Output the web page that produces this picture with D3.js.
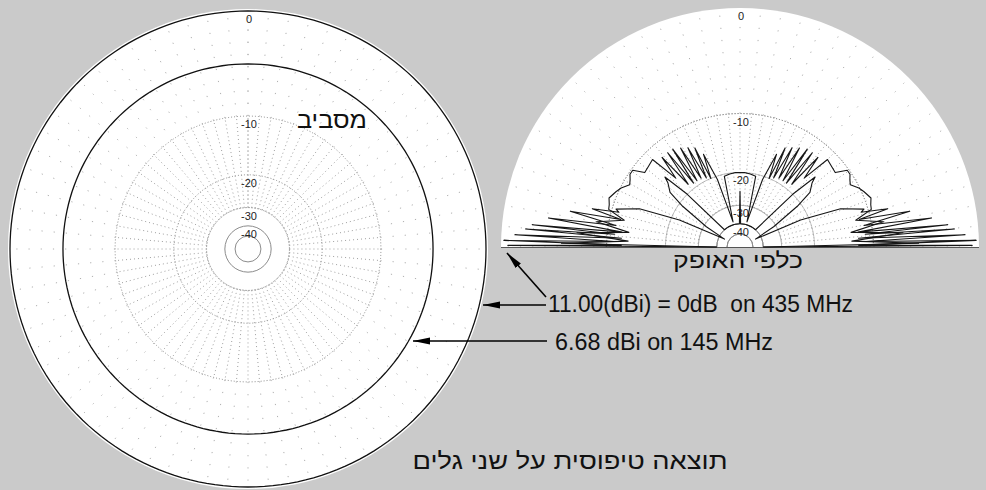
<!DOCTYPE html>
<html><head><meta charset="utf-8">
<script src="https://cdn.jsdelivr.net/npm/d3@7"></script>
<style>
body{margin:0;background:#cacaca;}
svg{display:block}
text{font-family:"Liberation Sans","DejaVu Sans",Arial,sans-serif;}
</style>
</head><body>
<svg id="c" width="986" height="490"></svg>
<script>
// ---------- data ----------
const gridDb      = [-10, -20, -30, -40, -50];
const tickDb      = [0, -10, -20, -30, -40];
const tickLabels  = ["0", "-10", "-20", "-30", "-40"];
const freqsMHz    = [435, 145];
const peakGainDbi = [11.00, 6.68];
const refGainDbi  = 11.00;

// elevation pattern, right half (deg above horizon), mirrored for the left half
const elev435 = [0,0.4,0.9,1.6,2.5,3.1,4.2,4.8,5.8,6.1,7.2,8.6,9.8,11.9,13,14.5,16,17,20.8,24,27,31,35.4,38,41.6,43,45,48,60,75,88.5,90];
const db435   = [-40,-0.5,-12,-0.2,-11,-1.0,-12,-1.8,-11,-2.3,-12,-3.6,-11,-5.5,-11.5,-7.7,-11,-10.5,-13.7,-22,-45,-31,-21,-17,-15.6,-14.5,-20,-40,-40,-40,-40,-25];
const elev145 = [0,1.2,3,5,7.5,10,13,16,17.9,20.5,24,26.4,29.4,31.5,33.5,35.6,38,42,45,47,49,50.5,52.5,54,55.5,57,59,60.5,62.3,64,65.5,67,68.5,71.5,74.5,77.5,82,86,90];
const db145   = [-40,-5,-13,-6.5,-13,-8.5,-12,-9.6,-9.5,-9.2,-9.7,-10.1,-10.9,-10.6,-10.2,-10.2,-11.7,-11.5,-11.3,-16,-12,-18.5,-12,-19,-12,-19,-12.5,-19,-13,-19.5,-13.5,-20,-15,-20.8,-38,-20.5,-20.2,-20,-20];

const titleAz = "מסביב";
const titleEl = "כלפי האופק";
const caption = "תוצאה טיפוסית על שני גלים";
const note435 = "11.00(dBi) = 0dB  on 435 MHz";
const note145 = "6.68 dBi on 145 MHz";

// ---------- setup ----------
const svg = d3.select("#c");
const arrl = db => Math.pow(0.89, -db / 2);   // ARRL log scale
const toRad = d => d * Math.PI / 180;

const L = {cx: 248, cy: 249, R: 238};
const Rt = {cx: 740, cy: 247, R: 239};
const rL = d3.scaleLinear().domain([0, 1]).range([0, L.R]);
const rR = d3.scaleLinear().domain([0, 1]).range([0, Rt.R]);

const defs = svg.append("defs");
defs.append("marker").attr("id", "ah").attr("markerUnits", "userSpaceOnUse")
  .attr("markerWidth", 18).attr("markerHeight", 9).attr("refX", 17).attr("refY", 4)
  .attr("orient", "auto")
  .append("path").attr("d", "M0,0.5 L17,4 L0,7.5 Z").attr("fill", "#000");

function grid(g, r, angles, R) {
  gridDb.forEach((db, i) => {
    const rr = r(arrl(db));
    const arc = angles[1] - angles[0] >= 360
      ? g.append("circle").attr("r", rr)
      : g.append("path").attr("d", d3.arc()({innerRadius: rr, outerRadius: rr, startAngle: -Math.PI/2, endAngle: Math.PI/2}));
    arc.attr("fill", "none")
      .attr("stroke", i < 2 ? "#8a8a8a" : (i === 2 ? "#a8a8a8" : "#8c8c8c"))
      .attr("stroke-width", 1)
      .attr("stroke-dasharray", i < 2 ? "1,2" : (i === 2 ? "2,1" : null));
  });
  const spokes = d3.range(angles[0], angles[1] + 0.001, 5);
  const r30 = r(arrl(-30)), r10 = r(arrl(-10));
  spokes.forEach(a => {
    const s = Math.sin(toRad(a)), c = -Math.cos(toRad(a));
    g.append("line").attr("x1", r30 * s).attr("y1", r30 * c).attr("x2", r10 * s).attr("y2", r10 * c)
      .attr("stroke", "#a0a0a0").attr("stroke-dasharray", "1,3");
    g.append("line").attr("x1", r10 * s).attr("y1", r10 * c).attr("x2", R * s).attr("y2", R * c)
      .attr("stroke", "#b0b0b0").attr("stroke-dasharray", "1.2,11");
  });
  tickDb.forEach((db, i) => {
    g.append("text").attr("x", 1).attr("y", -r(arrl(db)) + 12)
      .attr("text-anchor", "middle").attr("font-size", 11).attr("fill", "#222")
      .text(tickLabels[i]);
  });
}

// ---------- left: azimuth ----------
const gL = svg.append("g").attr("transform", `translate(${L.cx},${L.cy})`);
gL.append("circle").attr("r", L.R + 2).attr("fill", "#fff");
grid(gL, rL, [0, 360], L.R);
const azAngles = d3.range(0, 361, 2);
peakGainDbi.forEach((g, i) => {
  const rr = rL(arrl(g - refGainDbi));
  gL.append("path")
    .attr("d", d3.lineRadial().angle(a => toRad(a)).radius(() => rr)(azAngles))
    .attr("fill", "none").attr("stroke", "#111").attr("stroke-width", 1.3);
});

// ---------- right: elevation ----------
const gR = svg.append("g").attr("transform", `translate(${Rt.cx},${Rt.cy})`);
gR.append("path").attr("d", d3.arc()({innerRadius: 0, outerRadius: Rt.R, startAngle: -Math.PI/2, endAngle: Math.PI/2}))
  .attr("fill", "#fff");
grid(gR, rR, [-90, 90], Rt.R);
gR.append("line").attr("x1", -Rt.R).attr("x2", Rt.R).attr("y1", 0.5).attr("y2", 0.5)
  .attr("stroke", "#555").attr("stroke-width", 1.2);

function fullPattern(el, db) {
  const pts = el.map((e, i) => ({e, db: db[i]}));
  for (let i = el.length - 2; i >= 0; i--) pts.push({e: 180 - el[i], db: db[i]});
  return pts;
}
const elLine = d3.lineRadial()
  .angle(d => toRad(90 - d.e))
  .radius(d => rR(arrl(d.db)));
[[elev435, db435, 1.1], [elev145, db145, 1.1]].forEach(([el, db, w]) => {
  gR.append("path").attr("d", elLine(fullPattern(el, db)))
    .attr("fill", "none").attr("stroke", "#151515").attr("stroke-width", w).attr("stroke-linejoin", "round");
});

// ---------- texts ----------
function txt(s, x, y, size, len) {
  const t = svg.append("text").attr("x", x).attr("y", y).attr("font-size", size)
    .attr("fill", "#111").attr("text-anchor", "middle").style("white-space", "pre").text(s);
  if (len) t.attr("textLength", len).attr("lengthAdjust", "spacingAndGlyphs");
  return t;
}
txt(titleAz, 332, 128, 23, 70);
txt(titleEl, 738, 268, 22, 130);
txt(caption, 570, 469, 23, 315);
svg.append("text").attr("x", 548).attr("y", 312).attr("font-size", 23).attr("fill", "#111")
  .style("white-space", "pre").attr("textLength", 305).attr("lengthAdjust", "spacingAndGlyphs").text(note435);
svg.append("text").attr("x", 555).attr("y", 350).attr("font-size", 23).attr("fill", "#111")
  .attr("textLength", 218).attr("lengthAdjust", "spacingAndGlyphs").text(note145);

// ---------- arrows ----------
const arrows = [[546, 297, 507, 253], [546, 305, 483, 305], [547, 341, 413, 341]];
arrows.forEach(([x1, y1, x2, y2]) => {
  svg.append("line").attr("x1", x1).attr("y1", y1).attr("x2", x2).attr("y2", y2)
    .attr("stroke", "#000").attr("stroke-width", 1.6).attr("marker-end", "url(#ah)");
});
</script>
</body></html>
